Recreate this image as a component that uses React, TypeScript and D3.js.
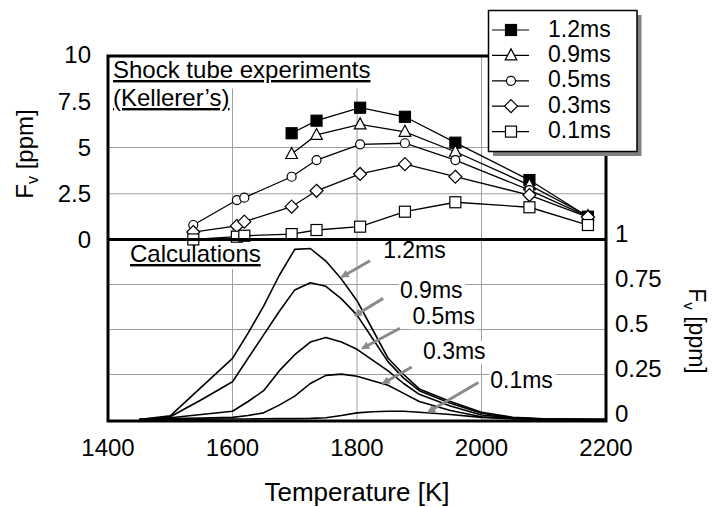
import React from "react";
import * as d3 from "d3";

// ---------- Data ----------
const seriesNames = ["1.2ms", "0.9ms", "0.5ms", "0.3ms", "0.1ms"];

// Shock tube experiments (upper panel, F_v in ppm)
const expTempsLong = [1537, 1607, 1619, 1695, 1735, 1805, 1877, 1958, 2077, 2171];
const expTempsShort = [1695, 1735, 1805, 1877, 1958, 2077, 2171];
const exp12 = [5.77, 6.45, 7.15, 6.66, 5.26, 3.24, 1.26];
const exp09 = [4.65, 5.68, 6.25, 5.85, 4.77, 2.97, 1.3];
const exp05 = [0.81, 2.16, 2.29, 3.42, 4.32, 5.17, 5.23, 4.32, 2.7, 1.26];
const exp03 = [0.43, 0.76, 0.99, 1.8, 2.66, 3.57, 4.1, 3.42, 2.43, 1.24];
const exp01 = [0.03, 0.18, 0.23, 0.32, 0.54, 0.72, 1.53, 2.04, 1.77, 0.81];

// Calculations (lower panel, F_v in ppm)
const calcTemps = [1450, 1500, 1550, 1600, 1625, 1650, 1675, 1700, 1725, 1750, 1775, 1800, 1825, 1850, 1875, 1900, 1950, 2000, 2050, 2100, 2150, 2200];
const calc12 = [0, 0.02, 0.18, 0.34, 0.48, 0.63, 0.8, 0.945, 0.95, 0.88, 0.78, 0.66, 0.5, 0.34, 0.25, 0.17, 0.1, 0.04, 0.012, 0.004, 0.001, 0];
const calc09 = [0, 0.015, 0.11, 0.21, 0.34, 0.47, 0.6, 0.72, 0.76, 0.74, 0.67, 0.58, 0.45, 0.32, 0.23, 0.16, 0.09, 0.035, 0.01, 0.003, 0.001, 0];
const calc05 = [0, 0.01, 0.028, 0.046, 0.1, 0.16, 0.27, 0.36, 0.43, 0.455, 0.43, 0.39, 0.33, 0.27, 0.2, 0.14, 0.075, 0.025, 0.008, 0.002, 0.0005, 0];
const calc03 = [0, 0.005, 0.008, 0.012, 0.022, 0.037, 0.08, 0.13, 0.2, 0.245, 0.252, 0.24, 0.215, 0.19, 0.145, 0.1, 0.05, 0.015, 0.005, 0.001, 0, 0];
const calc01 = [0, 0.001, 0.002, 0.003, 0.003, 0.004, 0.005, 0.005, 0.006, 0.01, 0.022, 0.037, 0.043, 0.046, 0.046, 0.04, 0.028, 0.012, 0.004, 0.001, 0, 0];

// Annotation arrows in data units: [T, V] start, end, and label anchor
const arrowFrom = [[1821, 0.882], [1842, 0.673], [1869, 0.507], [1888, 0.292], [1995, 0.206]];
const arrowTo = [[1776, 0.793], [1797, 0.578], [1809, 0.396], [1842, 0.201], [1915, 0.043]];
const labelAt = [[1842, 0.896], [1869, 0.673], [1889, 0.529], [1906, 0.336], [2014, 0.173]];

const xTicks = [1400, 1600, 1800, 2000, 2200];
const upperTicks = [0, 2.5, 5, 7.5, 10];
const upperTickLabels = ["0", "2.5", "5", "7.5", "10"];
const upperGrid = [2.5, 5];
const lowerTicks = [0, 0.25, 0.5, 0.75, 1];
const lowerTickLabels = ["0", "0.25", "0.5", "0.75", "1"];
const lowerGrid = [0.25, 0.5, 0.75];
const gridTemps = [1600, 1800, 2000];

// ---------- Layout ----------
const W = 713, H = 507;
const FONT = "'Liberation Sans', Arial, Helvetica, sans-serif";
const x = d3.scaleLinear().domain([1400, 2200]).range([108, 606]);
const yU = d3.scaleLinear().domain([0, 10]).range([240, 55]);
const yL = d3.scaleLinear().domain([0, 1]).range([419.5, 239.5]);

const markerTypes = ["filledSquare", "triangle", "circle", "diamond", "square"];

function Marker({ type, cx, cy }: { type: string; cx: number; cy: number }) {
  const common = { stroke: "#000", strokeWidth: 1.2 };
  if (type === "filledSquare")
    return <rect x={cx - 5.5} y={cy - 5.5} width={11} height={11} fill="#000" {...common} />;
  if (type === "square")
    return <rect x={cx - 5.5} y={cy - 5.5} width={11} height={11} fill="#fff" {...common} />;
  if (type === "circle") return <circle cx={cx} cy={cy} r={4.5} fill="#fff" {...common} />;
  if (type === "triangle")
    return (
      <path
        d={`M${cx},${cy - 6.5} L${cx + 5.8},${cy + 4.5} L${cx - 5.8},${cy + 4.5} Z`}
        fill="#fff"
        {...common}
      />
    );
  return (
    <path
      d={`M${cx},${cy - 6.5} L${cx + 6.5},${cy} L${cx},${cy + 6.5} L${cx - 6.5},${cy} Z`}
      fill="#fff"
      {...common}
    />
  );
}

export default function App() {
  const expSeries = [
    { t: expTempsShort, v: exp12 },
    { t: expTempsShort, v: exp09 },
    { t: expTempsLong, v: exp05 },
    { t: expTempsLong, v: exp03 },
    { t: expTempsLong, v: exp01 },
  ];
  const calcSeries = [calc12, calc09, calc05, calc03, calc01];

  const upperLine = d3
    .line<[number, number]>()
    .x((d) => x(d[0]))
    .y((d) => yU(d[1]));
  const lowerLine = d3
    .line<[number, number]>()
    .x((d) => x(d[0]))
    .y((d) => yL(d[1]));

  const legendY0 = 30;
  const legendStep = 25.4;

  return (
    <svg
      width={W}
      height={H}
      viewBox={`0 0 ${W} ${H}`}
      style={{ position: "absolute", left: 0, top: 0, background: "#fff" }}
      fontFamily={FONT}
    >
      <defs>
        <marker
          id="arrowHead"
          viewBox="0 0 10 10"
          refX="8"
          refY="5"
          markerWidth="9"
          markerHeight="8"
          markerUnits="userSpaceOnUse"
          orient="auto"
        >
          <path d="M0,0 L10,5 L0,10 Z" fill="#8a8a8a" />
        </marker>
      </defs>
      <rect x={0} y={0} width={W} height={H} fill="#fff" />

      {/* grid: upper */}
      {upperGrid.map((v) => (
        <line key={"ug" + v} x1={x(1400)} x2={x(2200)} y1={yU(v)} y2={yU(v)} stroke="#a0a0a0" strokeWidth={1} />
      ))}
      {gridTemps.map((t) => (
        <line key={"uv" + t} x1={x(t)} x2={x(t)} y1={56} y2={yU(0)} stroke="#a0a0a0" strokeWidth={1} />
      ))}
      {/* grid: lower */}
      {lowerGrid.map((v) => (
        <line key={"lg" + v} x1={x(1400)} x2={x(2200)} y1={yL(v)} y2={yL(v)} stroke="#a0a0a0" strokeWidth={1} />
      ))}
      {gridTemps.map((t) => (
        <line key={"lv" + t} x1={x(t)} x2={x(t)} y1={yL(1)} y2={yL(0)} stroke="#a0a0a0" strokeWidth={1} />
      ))}

      {/* panel titles with white backgrounds */}
      <rect x={109} y={57} width={263} height={31.5} fill="#fff" />
      <rect x={109} y={88} width={122} height={24} fill="#fff" />
      <text x={113} y={78} fontSize={24} textDecoration="underline">
        Shock tube experiments
      </text>
      <text x={113} y={106} fontSize={24} textDecoration="underline">
        (Kellerer’s)
      </text>
      <rect x={109} y={241} width={156} height={28} fill="#fff" />
      <text x={130} y={262} fontSize={24} textDecoration="underline">
        Calculations
      </text>

      {/* calculation curves */}
      {calcSeries.map((vals, i) => (
        <path
          key={"c" + i}
          d={lowerLine(calcTemps.map((t, j) => [t, vals[j]] as [number, number])) || ""}
          fill="none"
          stroke="#000"
          strokeWidth={1.6}
          strokeLinejoin="round"
        />
      ))}

      {/* annotation labels + arrows */}
      {seriesNames.map((name, i) => {
        const lx = x(labelAt[i][0]);
        const ly = yL(labelAt[i][1]);
        return (
          <g key={"lab" + i}>
            <rect x={lx - 1} y={ly - 18} width={66} height={23} fill="#fff" />
            <text x={lx} y={ly} fontSize={23}>
              {name}
            </text>
          </g>
        );
      })}
      {arrowFrom.map((f, i) => (
        <line
          key={"ar" + i}
          x1={x(f[0])}
          y1={yL(f[1])}
          x2={x(arrowTo[i][0])}
          y2={yL(arrowTo[i][1])}
          stroke="#8a8a8a"
          strokeWidth={3}
          markerEnd="url(#arrowHead)"
        />
      ))}

      {/* experiment series */}
      {expSeries.map((s, i) => (
        <path
          key={"el" + i}
          d={upperLine(s.t.map((t, j) => [t, s.v[j]] as [number, number])) || ""}
          fill="none"
          stroke="#000"
          strokeWidth={1.3}
        />
      ))}
      {expSeries.map((s, i) => (
        <g key={"em" + i}>
          {s.t.map((t, j) => (
            <Marker key={j} type={markerTypes[i]} cx={x(t)} cy={yU(s.v[j])} />
          ))}
        </g>
      ))}

      {/* frame */}
      <g stroke="#000" strokeWidth={3} fill="none">
        <rect x={x(1400)} y={56} width={x(2200) - x(1400)} height={421 - 56} />
        <line x1={x(1400)} x2={x(2200)} y1={239.5} y2={239.5} />
      </g>

      {/* left ticks */}
      {upperTicks.map((v, i) => (
        <text key={"lt" + i} x={91} y={yU(v)} dy="0.35em" fontSize={24} textAnchor="end">
          {upperTickLabels[i]}
        </text>
      ))}
      {/* right ticks */}
      {lowerTicks.map((v, i) => (
        <text key={"rt" + i} x={615} y={yL(v) - 6} dy="0.35em" fontSize={24} textAnchor="start">
          {lowerTickLabels[i]}
        </text>
      ))}
      {/* bottom ticks */}
      {xTicks.map((t) => (
        <text key={"bt" + t} x={x(t)} y={456} fontSize={24} textAnchor="middle">
          {t}
        </text>
      ))}

      {/* axis titles */}
      <text x={357} y={501} fontSize={26} textAnchor="middle">
        Temperature [K]
      </text>
      <text transform="translate(33,154) rotate(-90)" fontSize={24} textAnchor="middle">
        F<tspan fontSize={16} dy={5}>v</tspan>
        <tspan dy={-5}> [ppm]</tspan>
      </text>
      <text transform="translate(689,331) rotate(90)" fontSize={23} textAnchor="middle">
        F<tspan fontSize={15} dy={5}>v</tspan>
        <tspan dy={-5}> [ppm]</tspan>
      </text>

      {/* legend */}
      <rect x={493} y={15} width={148.5} height={141} fill="#808080" />
      <rect x={488.5} y={10.5} width={148.5} height={141} fill="#fff" stroke="#000" strokeWidth={1.5} />
      {seriesNames.map((name, i) => {
        const ly = legendY0 + i * legendStep;
        return (
          <g key={"lg" + i}>
            <line x1={492} x2={529} y1={ly} y2={ly} stroke="#000" strokeWidth={1.2} />
            <Marker type={markerTypes[i]} cx={511} cy={ly} />
            <text x={548} y={ly + 6.5} fontSize={23}>
              {name}
            </text>
          </g>
        );
      })}
    </svg>
  );
}
